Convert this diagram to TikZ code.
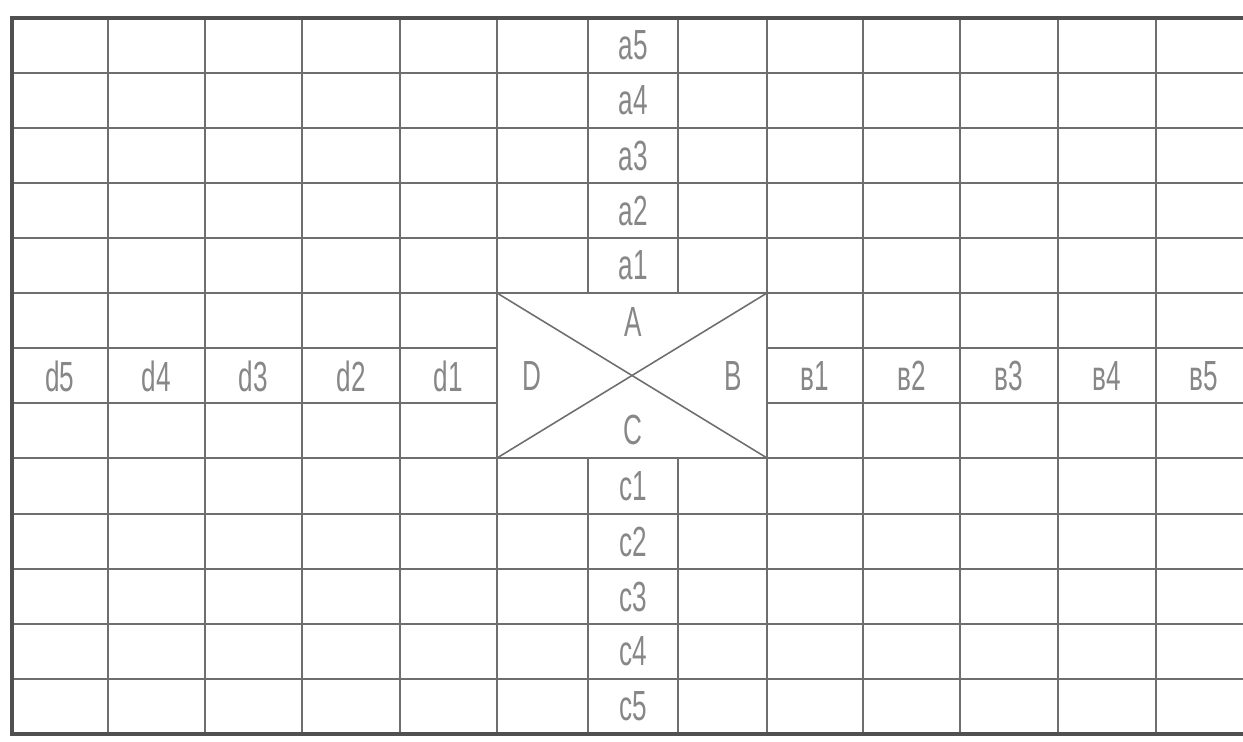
\documentclass[tikz,border=0pt]{standalone}
\usepackage{fontspec}
\newfontfamily\cellfont{Liberation Sans}[FakeStretch=0.62]
\usetikzlibrary{calc}
\definecolor{ink}{RGB}{80,80,80}
\definecolor{rule}{RGB}{110,110,110}
\definecolor{soft}{RGB}{135,135,135}
\tikzset{
  grid/.style={draw=rule, line width=0.7pt},
  frame/.style={draw=ink, line width=2pt},
  cross/.style={draw=rule, line width=0.9pt},
  cell/.style={font=\cellfont\fontsize{24}{24}\selectfont, text=soft, inner sep=0pt},
}
\begin{document}
\begin{tikzpicture}[x=0.02cm, y=-0.02cm]
  \useasboundingbox (0,0) rectangle (1243,741);
  % horizontal rules right across the sheet
  \foreach \y in {73,128,183,238,293,458,514,569,624,679} { \draw[grid] (12,\y) -- (1243,\y); }
  % rules of the middle row stop at the box
  \foreach \y in {348,403} { \draw[grid] (12,\y) -- (497,\y); \draw[grid] (767,\y) -- (1243,\y); }
  % vertical rules
  \foreach \x in {108,205,302,400,497,767,863,960,1058,1156} { \draw[grid] (\x,18) -- (\x,734); }
  \foreach \x in {588,678} { \draw[grid] (\x,18) -- (\x,293); \draw[grid] (\x,458) -- (\x,734); }
  % the centre box and its diagonals
  \coordinate (nw) at (497,293);
  \coordinate (ne) at (767,293);
  \coordinate (sw) at (497,458);
  \coordinate (se) at (767,458);
  \draw[cross] (nw) -- (se);
  \draw[cross] (sw) -- (ne);
  % sheet frame, open on the right
  \draw[frame] (1243,18) -- (12,18) -- (12,734) -- (1243,734);
  % labels
  \foreach \n/\y in {5/45.5,4/100.5,3/155.5,2/210.5,1/265.5} { \node[cell] (a\n) at (633,\y) {a\n}; }
  \foreach \n/\y in {1/486,2/541.5,3/596.5,4/651.5,5/706.5} { \node[cell] (c\n) at (633,\y) {c\n}; }
  \foreach \n/\x in {5/60,4/156.5,3/253.5,2/351,1/448.5} { \node[cell] (d\n) at (\x,376) {d\n}; }
  \foreach \n/\x in {1/815,2/911.5,3/1009,4/1107,5/1204} { \node[cell] (b\n) at (\x,376) {в\n}; }
  \node[cell] (A) at (633,322) {A};
  \node[cell] (B) at (733,376) {B};
  \node[cell] (C) at (633,430) {C};
  \node[cell] (D) at (532,376) {D};
\end{tikzpicture}
\end{document}
